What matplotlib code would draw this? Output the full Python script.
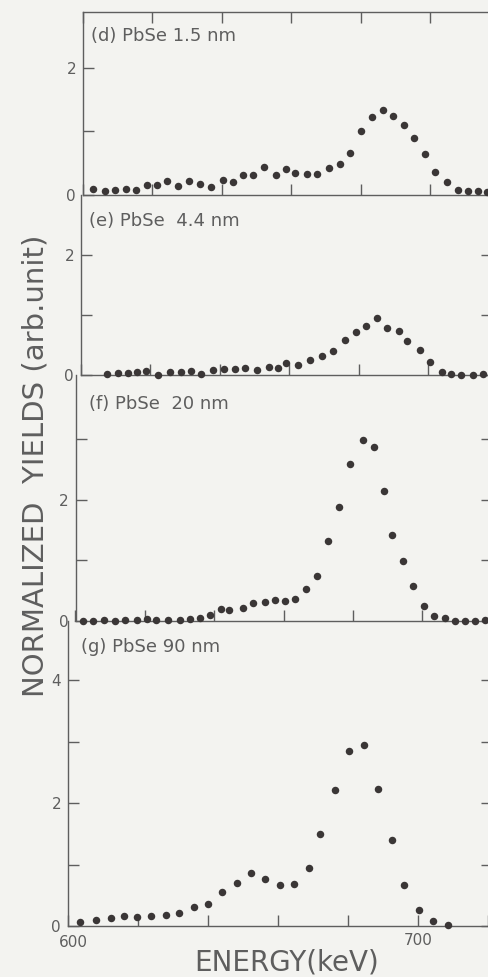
import matplotlib
matplotlib.use("Agg")
import matplotlib.pyplot as plt
from matplotlib.ticker import FixedLocator, FuncFormatter
from matplotlib.transforms import ScaledTranslation

W, H, DPI = 488, 977, 100

# (d) PbSe 1.5 nm
energy_d = [603.0, 606.3, 609.2, 612.4, 615.3, 618.3, 621.2, 624.1, 627.5, 630.6,
            633.7, 636.8, 640.3, 643.3, 646.0, 649.1, 652.3, 655.6, 658.5, 661.1,
            664.5, 667.5, 671.0, 674.1, 677.0, 680.0, 683.2, 686.4, 689.4, 692.6,
            695.4, 698.6, 701.3, 704.8, 708.2, 711.0, 713.9, 716.3]
yield_d = [0.10, 0.07, 0.08, 0.09, 0.08, 0.15, 0.16, 0.22, 0.14, 0.22,
           0.18, 0.13, 0.24, 0.20, 0.32, 0.32, 0.44, 0.31, 0.41, 0.35,
           0.33, 0.33, 0.43, 0.49, 0.66, 1.00, 1.22, 1.34, 1.25, 1.10,
           0.89, 0.65, 0.36, 0.20, 0.08, 0.07, 0.07, 0.05]

# (e) PbSe 4.4 nm
energy_e = [607.5, 610.7, 613.6, 616.0, 618.8, 622.2, 625.6, 628.7, 631.8, 634.7,
            638.0, 641.1, 644.3, 647.4, 650.7, 654.2, 656.8, 659.2, 662.4, 665.9,
            669.5, 672.6, 676.0, 679.2, 682.0, 685.4, 688.2, 691.6, 694.0, 697.6,
            700.7, 703.9, 706.7, 709.6, 713.0, 715.9]
yield_e = [0.01, 0.04, 0.04, 0.05, 0.06, 0.00, 0.05, 0.05, 0.06, 0.02,
           0.08, 0.10, 0.10, 0.11, 0.08, 0.14, 0.12, 0.20, 0.16, 0.25,
           0.32, 0.40, 0.59, 0.72, 0.82, 0.95, 0.79, 0.74, 0.57, 0.41,
           0.22, 0.05, 0.02, 0.00, 0.00, 0.02]

# (f) PbSe 20 nm
energy_f = [602.2, 605.1, 608.2, 611.3, 614.2, 617.6, 620.5, 623.3, 626.7, 630.1,
            632.9, 635.8, 638.9, 641.8, 644.3, 648.3, 651.2, 654.6, 657.4, 660.3,
            663.2, 666.3, 669.7, 672.8, 675.9, 679.2, 682.9, 686.0, 688.8, 691.3,
            694.4, 697.3, 700.4, 703.3, 706.4, 709.3, 712.2, 715.1, 718.0]
yield_f = [0.00, 0.00, 0.02, 0.00, 0.01, 0.01, 0.03, 0.02, 0.02, 0.02,
           0.03, 0.05, 0.10, 0.19, 0.18, 0.22, 0.29, 0.32, 0.34, 0.33,
           0.37, 0.53, 0.74, 1.32, 1.87, 2.58, 2.98, 2.86, 2.14, 1.42,
           0.98, 0.58, 0.24, 0.09, 0.05, 0.00, 0.00, 0.00, 0.01]

# (g) PbSe 90 nm
energy_g = [603.4, 608.0, 612.2, 616.0, 619.8, 623.8, 627.9, 631.8, 635.9, 639.9,
            643.9, 648.2, 652.2, 656.2, 660.5, 664.5, 668.8, 672.1, 676.3, 680.4,
            684.7, 688.6, 692.7, 695.9, 700.3, 704.3, 708.5]
yield_g = [0.07, 0.10, 0.13, 0.16, 0.15, 0.16, 0.18, 0.21, 0.31, 0.35,
           0.56, 0.70, 0.86, 0.77, 0.66, 0.69, 0.94, 1.50, 2.21, 2.84,
           2.95, 2.22, 1.40, 0.67, 0.26, 0.08, 0.02]

panel_labels = ["(d) PbSe 1.5 nm", "(e) PbSe  4.4 nm", "(f) PbSe  20 nm", "(g) PbSe 90 nm"]
x_ticks = [600, 620, 640, 660, 680, 700, 720]
x_tick_labels = {600: "600", 700: "700"}
y_max = [2.88, 3.0, 4.05, 4.96]
y_ticks = [[0, 1, 2], [0, 1, 2], [0, 1, 2, 3], [0, 1, 2, 3, 4]]

energies = [energy_d, energy_e, energy_f, energy_g]
yields = [yield_d, yield_e, yield_f, yield_g]

# layout in pixels: left spine, top, bottom, pixels per keV, label position
layout = [
    dict(left=83, top=12, bottom=195, scale=3.47, lab=(91, 27)),
    dict(left=81, top=195, bottom=375, scale=3.47, lab=(89, 212)),
    dict(left=75.5, top=375, bottom=621, scale=3.47, lab=(89, 395)),
    dict(left=68, top=621, bottom=926, scale=3.50, lab=(81, 638)),
]
RIGHT_PX = 492

paper = "#f3f3f0"
ink = "#5e5e5e"
dot = "#3a3636"

plt.rcParams["font.family"] = ["DejaVu Sans"]
fig = plt.figure(figsize=(W / DPI, H / DPI), dpi=DPI, facecolor=paper)

for i, (lay, xs, ys) in enumerate(zip(layout, energies, yields)):
    L, T, B, s = lay["left"], lay["top"], lay["bottom"], lay["scale"]
    ax = fig.add_axes([L / W, 1 - B / H, (RIGHT_PX - L) / W, (B - T) / H])
    ax.set_facecolor("none")
    ax.set_xlim(600, 600 + (RIGHT_PX - L) / s)
    ax.set_ylim(0, y_max[i])
    ax.plot(xs, ys, "o", color=dot, markersize=5.4, markeredgewidth=0,
            clip_on=False, zorder=5)

    for side, sp in ax.spines.items():
        sp.set_color(ink)
        sp.set_linewidth(1.0)
    ax.spines["top"].set_visible(i == 0)
    ax.spines["right"].set_visible(False)

    ax.xaxis.set_major_locator(FixedLocator(x_ticks))
    ax.yaxis.set_major_locator(FixedLocator(y_ticks[i]))
    ax.yaxis.set_major_formatter(
        FuncFormatter(lambda v, p: f"{int(v)}" if int(v) % 2 == 0 else ""))
    if i == 3:
        ax.xaxis.set_major_formatter(
            FuncFormatter(lambda v, p: x_tick_labels.get(int(round(v)), "")))
    else:
        ax.xaxis.set_major_formatter(FuncFormatter(lambda v, p: ""))

    ax.tick_params(axis="both", direction="in", length=8, width=1.0,
                   color=ink, labelcolor=ink, labelsize=11)
    ax.tick_params(axis="x", top=(i == 0), pad=5)
    ax.tick_params(axis="y", right=(i > 0), pad=5)

    if i == 3:
        # the first energy label sits a little right of its tick
        first = ax.xaxis.get_major_ticks()[0]
        first.label1.set_transform(first.label1.get_transform()
                                   + ScaledTranslation(5 / DPI, -2 / DPI, fig.dpi_scale_trans))

    fig.text(lay["lab"][0] / W, 1 - lay["lab"][1] / H, panel_labels[i],
             ha="left", va="top", fontsize=13, color=ink)

fig.text(36 / W, 1 - 466 / H, "NORMALIZED  YIELDS (arb.unit)", rotation=90,
         ha="center", va="center", fontsize=21, color=ink)
fig.text(287 / W, 1 - 962 / H, "ENERGY(keV)", ha="center", va="center",
         fontsize=20, color=ink)

fig.savefig("out.png", dpi=DPI, facecolor=paper)
